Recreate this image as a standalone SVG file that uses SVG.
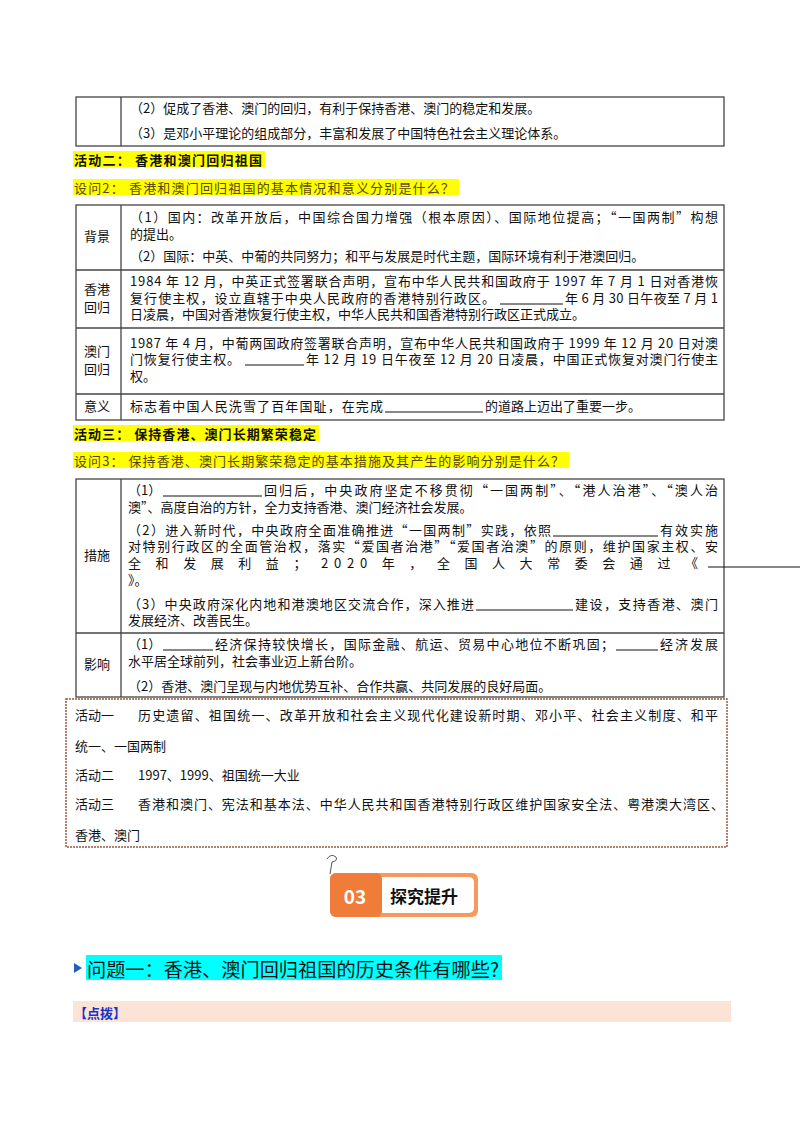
<svg xmlns="http://www.w3.org/2000/svg" width="800" height="1132" viewBox="0 0 800 1132">
<style>
text{font-family:"Noto Sans CJK SC","Liberation Serif",sans-serif;font-size:13px;fill:#111;dominant-baseline:central}
.b{font-weight:bold}
.tb{fill:none;stroke:#444;stroke-width:1.3}
.ln{stroke:#111;stroke-width:1}
.hl{fill:#ffff00}
</style>
<rect width="800" height="1132" fill="#fff"/>
<g id="table1">
<rect class="tb" x="76" y="97" width="648" height="49"/>
<line class="tb" x1="121" y1="97" x2="121" y2="146"/>
<text x="130" y="107">（2）促成了香港、澳门的回归，有利于保持香港、澳门的稳定和发展。</text>
<text x="130" y="132">（3）是邓小平理论的组成部分，丰富和发展了中国特色社会主义理论体系。</text>
</g>
<g id="act2">
<rect class="hl" x="73" y="151" width="192" height="16"/>
<text class="b" x="74" y="159" textLength="188" lengthAdjust="spacing">活动二：  香港和澳门回归祖国</text>
<rect class="hl" x="73" y="179" width="386" height="16"/>
<text x="74" y="187" style="fill:#5a4a00" textLength="380" lengthAdjust="spacing">设问2：  香港和澳门回归祖国的基本情况和意义分别是什么？</text>
</g>
<g id="table2">
<rect class="tb" x="76" y="205" width="648" height="215"/>
<line class="tb" x1="121" y1="205" x2="121" y2="420"/>
<line class="tb" x1="76" y1="270" x2="724" y2="270"/>
<line class="tb" x1="76" y1="328" x2="724" y2="328"/>
<line class="tb" x1="76" y1="394" x2="724" y2="394"/>
<text x="84" y="235">背景</text>
<text x="84" y="288">香港</text><text x="84" y="306">回归</text>
<text x="84" y="350">澳门</text><text x="84" y="368">回归</text>
<text x="84" y="405">意义</text>
<text x="130" y="216" textLength="588" lengthAdjust="spacing">（1）国内：改革开放后，中国综合国力增强（根本原因）、国际地位提高；“一国两制”构想</text>
<text x="130" y="233">的提出。</text>
<text x="130" y="255">（2）国际：中英、中葡的共同努力；和平与发展是时代主题，国际环境有利于港澳回归。</text>
<text x="130" y="280" textLength="588" lengthAdjust="spacing">1984 年 12 月，中英正式签署联合声明，宣布中华人民共和国政府于 1997 年 7 月 1 日对香港恢</text>
<text x="130" y="297" textLength="365" lengthAdjust="spacing">复行使主权，设立直辖于中央人民政府的香港特别行政区。</text>
<line class="ln" x1="500" y1="304" x2="563" y2="304"/>
<text x="565" y="297" textLength="153" lengthAdjust="spacing">年 6 月 30 日午夜至 7 月 1</text>
<text x="130" y="313">日凌晨，中国对香港恢复行使主权，中华人民共和国香港特别行政区正式成立。</text>
<text x="130" y="342" textLength="588" lengthAdjust="spacing">1987 年 4 月，中葡两国政府签署联合声明，宣布中华人民共和国政府于 1999 年 12 月 20 日对澳</text>
<text x="130" y="358" textLength="110" lengthAdjust="spacing">门恢复行使主权。</text>
<line class="ln" x1="245" y1="365" x2="304" y2="365"/>
<text x="306" y="358" textLength="412" lengthAdjust="spacing">年 12 月 19 日午夜至 12 月 20 日凌晨，中国正式恢复对澳门行使主</text>
<text x="130" y="375">权。</text>
<text x="130" y="405" textLength="253" lengthAdjust="spacing">标志着中国人民洗雪了百年国耻，在完成</text>
<line class="ln" x1="385" y1="412" x2="483" y2="412"/>
<text x="485" y="405">的道路上迈出了重要一步。</text>
</g>
<g id="act3">
<rect class="hl" x="73" y="425" width="246" height="16"/>
<text class="b" x="74" y="433" textLength="242" lengthAdjust="spacing">活动三：  保持香港、澳门长期繁荣稳定</text>
<rect class="hl" x="73" y="452" width="496" height="16"/>
<text x="74" y="460" style="fill:#5a4a00" textLength="490" lengthAdjust="spacing">设问3：  保持香港、澳门长期繁荣稳定的基本措施及其产生的影响分别是什么？</text>
</g>
<g id="table3">
<rect class="tb" x="76" y="479" width="648" height="218"/>
<line class="tb" x1="121" y1="479" x2="121" y2="697"/>
<line class="tb" x1="76" y1="633" x2="724" y2="633"/>
<text x="84" y="554">措施</text>
<text x="84" y="663">影响</text>
<text x="128" y="489">（1）</text>
<line class="ln" x1="163" y1="496" x2="262" y2="496"/>
<text x="264" y="489" textLength="454" lengthAdjust="spacing">回归后，中央政府坚定不移贯彻“一国两制”、“港人治港”、“澳人治</text>
<text x="128" y="506">澳”、高度自治的方针，全力支持香港、澳门经济社会发展。</text>
<text x="128" y="529" textLength="423" lengthAdjust="spacing">（2）进入新时代，中央政府全面准确推进“一国两制”实践，依照</text>
<line class="ln" x1="553" y1="536" x2="658" y2="536"/>
<text x="660" y="529" textLength="58" lengthAdjust="spacing">有效实施</text>
<text x="128" y="545" textLength="590" lengthAdjust="spacing">对特别行政区的全面管治权，落实“爱国者治港”“爱国者治澳”的原则，维护国家主权、安</text>
<text x="128" y="562" textLength="570" lengthAdjust="spacing">全 和 发 展 利 益 ； 2020 年 ， 全 国 人 大 常 委 会 通 过 《</text>
<line class="ln" x1="708" y1="567" x2="800" y2="567"/>
<text x="128" y="579">》。</text>
<text x="128" y="603" textLength="346" lengthAdjust="spacing">（3）中央政府深化内地和港澳地区交流合作，深入推进</text>
<line class="ln" x1="476" y1="610" x2="573" y2="610"/>
<text x="575" y="603" textLength="143" lengthAdjust="spacing">建设，支持香港、澳门</text>
<text x="128" y="619">发展经济、改善民生。</text>
<text x="128" y="643">（1）</text>
<line class="ln" x1="163" y1="650" x2="213" y2="650"/>
<text x="215" y="643" textLength="399" lengthAdjust="spacing">经济保持较快增长，国际金融、航运、贸易中心地位不断巩固；</text>
<line class="ln" x1="616" y1="650" x2="658" y2="650"/>
<text x="660" y="643" textLength="58" lengthAdjust="spacing">经济发展</text>
<text x="128" y="660">水平居全球前列，社会事业迈上新台阶。</text>
<text x="128" y="685">（2）香港、澳门呈现与内地优势互补、合作共赢、共同发展的良好局面。</text>
</g>
<g id="answers">
<rect x="66" y="699" width="661" height="148" fill="none" stroke="#9a5a40" stroke-width="1.5" stroke-dasharray="2,1"/>
<text x="75" y="714">活动一</text>
<text x="138" y="714" textLength="580" lengthAdjust="spacing">历史遗留、祖国统一、改革开放和社会主义现代化建设新时期、邓小平、社会主义制度、和平</text>
<text x="75" y="745">统一、一国两制</text>
<text x="75" y="774">活动二</text>
<text x="138" y="774">1997、1999、祖国统一大业</text>
<text x="75" y="803">活动三</text>
<text x="138" y="803" textLength="586" lengthAdjust="spacing">香港和澳门、宪法和基本法、中华人民共和国香港特别行政区维护国家安全法、粤港澳大湾区、</text>
<text x="75" y="834">香港、澳门</text>
</g>
<g id="badge">
<path d="M327 859 q4 -6 9 -2 q2 4 -4 5 l-2 12" fill="none" stroke="#555" stroke-width="1"/>
<rect x="330" y="873" width="148" height="44" rx="6" fill="#f59a5a"/>
<rect x="378" y="877" width="96" height="36" rx="5" fill="#fff"/>
<rect x="330" y="873" width="52" height="44" rx="6" fill="#f07c3a"/>
<text x="355" y="895" text-anchor="middle" class="b" style="fill:#fff;font-size:19px">03</text>
<text x="424" y="895" text-anchor="middle" class="b" style="font-size:17px">探究提升</text>
</g>
<g id="question">
<polygon points="74,963 82,968 74,973" fill="#1f5fbf"/>
<rect x="86" y="955" width="416" height="25" fill="#00ffff"/>
<text x="87" y="968" style="font-size:19px" textLength="412" lengthAdjust="spacingAndGlyphs">问题一：香港、澳门回归祖国的历史条件有哪些?</text>
</g>
<g id="hint">
<rect x="73" y="1001" width="658" height="21" fill="#fbe3d6"/>
<text x="74" y="1012" class="b" style="fill:#1a33c8">【点拨】</text>
</g>
</svg>
